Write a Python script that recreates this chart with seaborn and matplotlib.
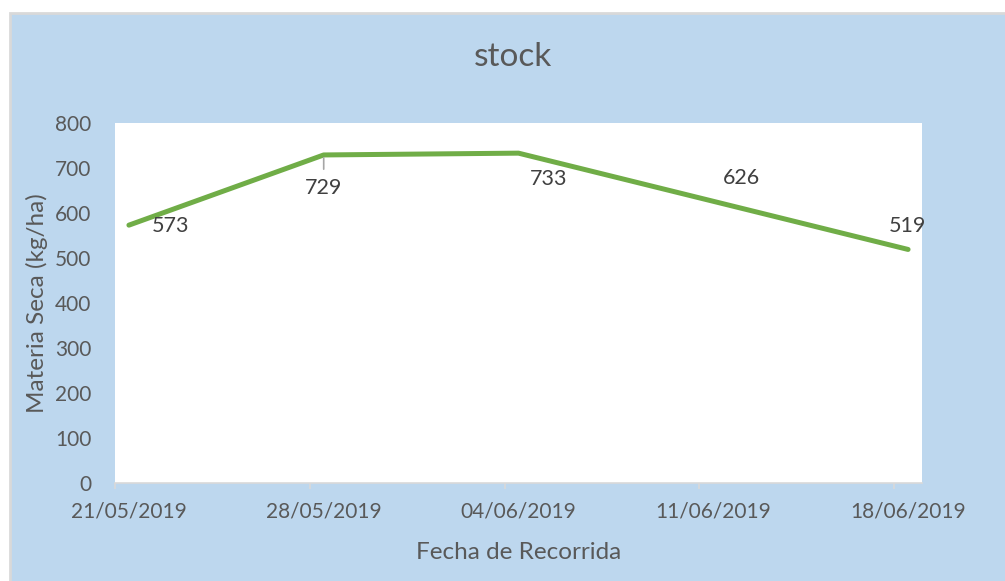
import matplotlib
matplotlib.use("Agg")
import matplotlib.pyplot as plt
import matplotlib.dates as mdates
from matplotlib.patches import Rectangle
import seaborn as sns
import pandas as pd

sns.set_theme(style="white")
plt.rcParams['font.family'] = ['Lato', 'DejaVu Sans']

# data
fechas = ["21/05/2019", "28/05/2019", "04/06/2019", "11/06/2019", "18/06/2019"]
stock = [573, 729, 733, 626, 519]
yticks = [0, 100, 200, 300, 400, 500, 600, 700, 800]

df = pd.DataFrame({"fecha": pd.to_datetime(fechas, dayfirst=True), "stock": stock})

# label offsets (pixels) like the moved excel data labels
offsets = [(42, -1), (0, -33), (30, -26), (28, 23), (-1, 23)]

W, H = 1005, 581
fig = plt.figure(figsize=(W / 100, H / 100), dpi=100, facecolor="white")
fig.patches.append(Rectangle((10 / W, -0.01), 1.02, 1 - 13 / H + 0.01, transform=fig.transFigure,
                             facecolor="#BDD7EE", edgecolor="#D9D9D9", linewidth=2, zorder=-5))

ax = fig.add_axes([115 / W, 1 - 483 / H, (922 - 115) / W, (483 - 123) / H])
ax.set_facecolor("white")

sns.lineplot(data=df, x="fecha", y="stock", color="#70AD47", linewidth=3.6, ax=ax,
             solid_capstyle="round", solid_joinstyle="round")

for (x, y), (dx, dy) in zip(zip(df["fecha"], df["stock"]), offsets):
    ax.annotate(str(y), (mdates.date2num(x), y), xytext=(dx, dy), textcoords="offset pixels",
                ha="center", va="center", fontsize=15.5, color="#404040")
# leader line for the moved 729 label
ax.annotate("", (mdates.date2num(df["fecha"][1]), 729), xytext=(0, -17), textcoords="offset pixels",
            arrowprops=dict(arrowstyle="-", color="#A6A6A6", lw=1.2))

half = pd.Timedelta(hours=12)
ax.set_xlim(df["fecha"].iloc[0] - half, df["fecha"].iloc[-1] + half)
ax.set_ylim(0, 800)
ax.set_yticks(yticks)
ax.set_xticks(df["fecha"])
ax.set_xticks([d - half for d in df["fecha"]], minor=True)
ax.xaxis.set_major_formatter(mdates.DateFormatter("%d/%m/%Y"))
ax.tick_params(axis="x", which="major", length=0, pad=13, labelsize=15, labelcolor="#595959")
ax.tick_params(axis="x", which="minor", length=4, width=1.2, color="#D9D9D9", bottom=True)
ax.tick_params(axis="y", length=0, pad=17, labelsize=15, labelcolor="#595959")

for s in ["top", "right", "left"]:
    ax.spines[s].set_visible(False)
ax.spines["bottom"].set_color("#D9D9D9")
ax.spines["bottom"].set_linewidth(1.2)

ax.set_xlabel("Fecha de Recorrida", fontsize=17.5, color="#595959", labelpad=15)
ax.set_ylabel("Materia Seca (kg/ha)", fontsize=17.5, color="#595959", labelpad=5)
fig.text(513 / W, 1 - 57 / H, "stock", ha="center", va="center", fontsize=24, color="#595959")

fig.savefig("out.png", dpi=100, facecolor=fig.get_facecolor())
